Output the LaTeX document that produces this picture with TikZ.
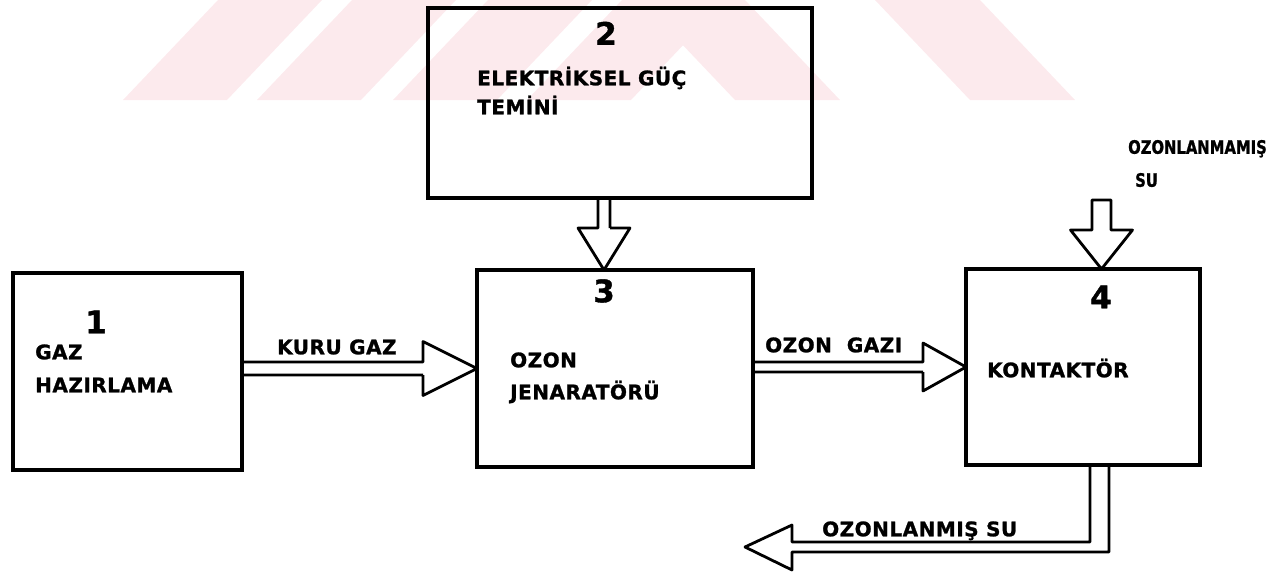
\documentclass[tikz,border=0pt]{standalone}
\usepackage{fontspec}
\setmainfont{DejaVu Sans}
\newfontfamily\lblfont{DejaVu Sans}[LetterSpace=2.5, FakeBold=1.2]
\newfontfamily\smfont{DejaVu Sans}[FakeBold=1.2, FakeStretch=0.8]
\usepackage{tikz}
\definecolor{wmpink}{RGB}{252,234,237}

\begin{document}
\begin{tikzpicture}[
    x=1pt, y=-1pt,
    box/.style={draw, line width=3.4pt, inner sep=0pt, outer sep=0pt},
    pipe/.style={draw, line width=2.8pt, line join=round},
    lbl/.style={font=\lblfont\bfseries\fontsize{20}{20}\selectfont, inner sep=0pt, anchor=west, text height=14.5pt, text depth=0pt},
    lblsm/.style={font=\smfont\bfseries\fontsize{18.5}{18.5}\selectfont, inner sep=0pt, anchor=west, text height=13.5pt, text depth=0pt},
    num/.style={font=\lblfont\bfseries\fontsize{31}{31}\selectfont, inner sep=0pt, text height=22.5pt, text depth=0pt}
]
    \useasboundingbox (0,0) rectangle (1278,571);

    % watermark
    \foreach \s in {0,134,270,404}
        \fill[wmpink] (123+\s,100) -- ++(104,0) -- ++(95,-100) -- ++(-104,0) -- cycle;
    \foreach \s in {0,235}
        \fill[wmpink] (640+\s,0) -- ++(105,0) -- ++(95,100) -- ++(-105,0) -- cycle;

    % blocks
    \node[box, minimum width=229pt, minimum height=197pt] (gaz) at (127.5,371.5) {};
    \node[box, minimum width=384pt, minimum height=190pt] (guc) at (620,103) {};
    \node[box, minimum width=276pt, minimum height=197pt] (jen) at (615,368.5) {};
    \node[box, minimum width=234pt, minimum height=196pt] (kon) at (1083,367) {};

    \node[num] (n1) at (96,322) {1};
    \node[lbl] (gazA) at (35,352) {GAZ};
    \node[lbl] (gazB) at (35,385) {HAZIRLAMA};

    \node[num] (n2) at (606,33.5) {2};
    \node[lbl] (gucA) at (477,78) {ELEKTRİKSEL GÜÇ};
    \node[lbl] (gucB) at (477,107) {TEMİNİ};

    \node[num] (n3) at (604,291) {3};
    \node[lbl] (jenA) at (510,360) {OZON};
    \node[lbl] (jenB) at (510,392) {JENARATÖRÜ};

    \node[num] (n4) at (1101,297) {4};
    \node[lbl] (konA) at (987,370) {KONTAKTÖR};

    % flow labels
    \node[lbl] (kuru) at (277,347) {KURU GAZ};
    \node[lbl] (ozgaz) at (765,345) {OZON\ \ GAZI};
    \node[lblsm] (hamA) at (1128,147) {OZONLANMAMIŞ};
    \node[lblsm] (hamB) at (1135,180) {SU};
    \node[lbl] (temiz) at (822,529) {OZONLANMIŞ SU};

    \coordinate (giris) at (1101.5,200);
    \coordinate (suOut) at (745,547);

    % hollow arrows
    \draw[pipe] (jen.west) -- ++(-54,-27) -- ++(0,20.5) coordinate (k1) -- (k1 -| gaz.east)
        (jen.west) ++(-54,6.5) coordinate (k2) -- (k2 -| gaz.east)
        (k2) -- ++(0,20.5) -- (jen.west);
    \draw[pipe] (kon.west) -- ++(-43,-24) -- ++(0,19) coordinate (g1) -- (g1 -| jen.east)
        (kon.west) ++(-43,5) coordinate (g2) -- (g2 -| jen.east)
        (g2) -- ++(0,19) -- (kon.west);
    \draw[pipe] (jen.north) ++(-11,0) coordinate (t23) -- ++(-26,-42) -- ++(20,0) coordinate (s1) -- (s1 |- guc.south)
        (t23) ++(6,-42) coordinate (s2) -- (s2 |- guc.south)
        (s2) -- ++(20,0) -- (t23);
    \draw[pipe] (kon.north) ++(18.5,0) coordinate (t4) -- ++(-31,-39) -- ++(21.5,0) coordinate (h1)
        -- (h1 |- giris) -- ++(19,0) coordinate (h2) -- (h2 |- h1) -- ++(21.5,0) -- (t4);
    \draw[pipe] (kon.south) ++(7,0) coordinate (c1) -- ++(0,77) -- ++(-298,0) -- ++(0,-17) -- (suOut)
        -- ++(47,23) -- ++(0,-18) -- ++(317,0) coordinate (c2) -- (c2 |- kon.south);
\end{tikzpicture}
\end{document}
